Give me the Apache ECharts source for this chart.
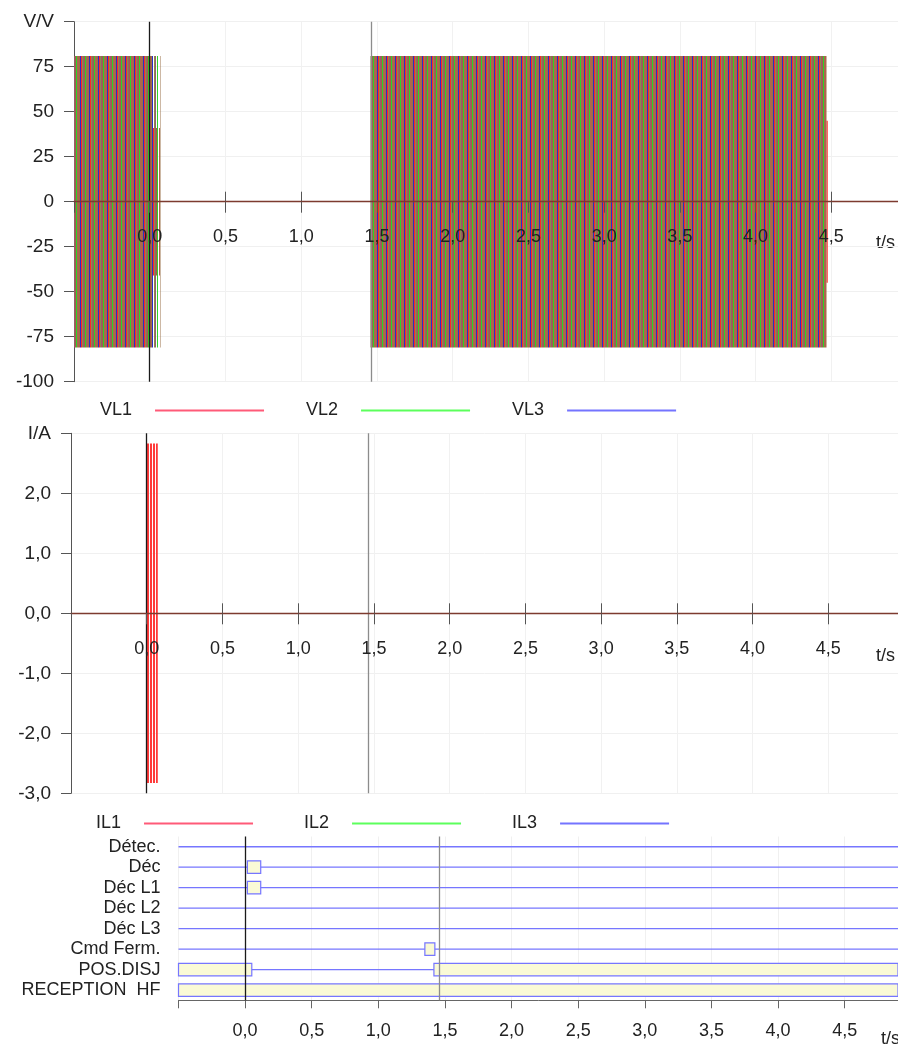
<!DOCTYPE html>
<html><head><meta charset="utf-8">
<script src="https://cdn.jsdelivr.net/npm/echarts@6/dist/echarts.min.js"></script>
<style>html,body{margin:0;padding:0;background:#fff}#c{width:898px;height:1045px}</style>
</head><body><div id="c"></div>
<script>
// ---------------- data ----------------
const voltageTicks = [-100, -75, -50, -25, 0, 25, 50, 75, 100];
const currentTicks = [-3, -2, -1, 0, 1, 2, 3];
const timeTickStep = 0.5;
// oscillation envelopes of the 50 Hz signals: [tStart (s), tEnd (s), peak]
const VL1 = [[-0.5, 0.012, 81], [0.012, 0.078, 41], [1.457, 4.468, 81], [4.468, 4.476, 45]];
const VL2 = [[-0.5, 0.071, 81], [1.457, 4.468, 81]];
const VL3 = [[-0.5, 0.052, 81], [1.457, 4.468, 81]];
const IL1 = [[0.0, 0.073, 2.83]];
const IL2 = [];
const IL3 = [];
const cursorTimes = [0, 1.46];
const digitalLabels = ['Détec.', 'Déc', 'Déc L1', 'Déc L2', 'Déc L3', 'Cmd Ferm.', 'POS.DISJ', 'RECEPTION  HF'];
// active intervals: [rowIndex, tStart, tEnd]
const digitalActive = [[1, 0.017, 0.117], [2, 0.017, 0.117], [5, 1.349, 1.424],
                       [6, -0.5, 0.05], [6, 1.417, 4.9], [7, -0.5, 4.9]];

// ---------------- styling helpers ----------------
const FONT = '"Liberation Sans", Arial, sans-serif';
const TXT = '#222';
const AX = '#555';
const ZERO = '#7d3b2f';
const COL = { VL1: '#ff5a78', VL2: '#5cff5c', VL3: '#7474ff', IL1: '#ff5a78', IL2: '#5cff5c', IL3: '#7474ff' };

function makePattern(cols) {
  const c = document.createElement('canvas');
  c.width = cols.length; c.height = 2;
  const g = c.getContext('2d');
  cols.forEach((col, i) => { if (col) { g.fillStyle = col; g.fillRect(i, 0, 1, 2); } });
  return { image: c, repeat: 'repeat' };
}
const PAT = {
  VL1: makePattern(['#ff2626', null, null, '#a65a48', null, null, '#b0644c', null, null]),
  VL2: makePattern([null, '#8f8a4a', null, null, '#2ad42a', null, null, '#9a7048', null]),
  VL3: makePattern([null, null, '#94606a', null, null, '#a8684e', null, null, '#2c2cc8']),
  IL1: makePattern(['#ff3a3a', '#ff3a3a', null])
};
const SOLID = { VL1: '#ff2b2b', VL2: '#2bdc2b', VL3: '#3030cc', IL1: '#ff3a3a', IL2: '#2bdc2b', IL3: '#3030cc' };

function clip(r, cs) {
  return echarts.graphic.clipRectByRect(r, { x: cs.x, y: cs.y, width: cs.width, height: cs.height });
}
function bandItem(name) {
  return function (params, api) {
    const a = api.value(2);
    const p0 = api.coord([api.value(0), a]);
    const p1 = api.coord([api.value(1), -a]);
    const w = p1[0] - p0[0];
    const r = clip({ x: p0[0], y: p0[1], width: Math.max(w, 1), height: p1[1] - p0[1] }, params.coordSys);
    if (!r) return null;
    return { type: 'rect', shape: r, style: { fill: w < 3 ? SOLID[name] : (PAT[name] || SOLID[name]) } };
  };
}
function rowLineItem(params, api) {
  const cs = params.coordSys;
  const y = api.coord([0, api.value(0)])[1];
  return { type: 'line', shape: { x1: cs.x, y1: y, x2: cs.x + cs.width, y2: y },
           style: { stroke: '#7676ff', lineWidth: 1.3 } };
}
function boxItem(params, api) {
  const y = api.coord([0, api.value(0)])[1];
  const x0 = api.coord([api.value(1), 0])[0];
  const x1 = api.coord([api.value(2), 0])[0];
  const h = 12.5;
  const r = clip({ x: x0, y: y - h / 2, width: x1 - x0, height: h }, params.coordSys);
  if (!r) return null;
  return { type: 'rect', shape: r, style: { fill: '#fafad6', stroke: '#7676ff', lineWidth: 1.2 } };
}
function cursorMarkLine() {
  return {
    silent: true, symbol: ['none', 'none'], label: { show: false }, animation: false,
    data: cursorTimes.map((t, i) => ({ xAxis: t, lineStyle: { color: i === 0 ? '#1a1a1a' : '#8c8c8c', width: 1.3, type: 'solid' } }))
  };
}
const tfmt = v => (v < -0.001 || v > 4.6) ? '' : v.toFixed(1).replace('.', ',');
const lbl = (extra) => Object.assign({ color: TXT, fontFamily: FONT, fontSize: 19 }, extra);

// x axes of the two analog charts sit on the zero line (middle of the grid)
function timeAxes(grid, min, max, labelMargin, halfHeight) {
  return [
    { gridIndex: grid, type: 'value', min: min, max: max, interval: timeTickStep, position: 'bottom',
      offset: -halfHeight, z: 10,
      axisLine: { show: true, onZero: false, lineStyle: { color: ZERO, width: 1.3 } },
      axisTick: { show: true, length: 11, lineStyle: { color: AX } },
      axisLabel: lbl({ margin: labelMargin, formatter: tfmt, fontSize: 18 }),
      splitLine: { show: false } },
    { gridIndex: grid, type: 'value', min: min, max: max, interval: timeTickStep, position: 'top',
      offset: -halfHeight,
      axisLine: { show: false, onZero: false },
      axisTick: { show: true, length: 10, lineStyle: { color: AX } },
      axisLabel: { show: false },
      splitLine: { show: true, lineStyle: { color: '#f1f1f1' } } }
  ];
}
function valueAxes(grid, min, max, step, fmt) {
  return [
    { gridIndex: grid, type: 'value', min: min, max: max, interval: step, position: 'left',
      axisLine: { show: true, onZero: false, lineStyle: { color: AX } },
      axisTick: { show: true, length: 10, lineStyle: { color: AX } },
      axisLabel: lbl({ margin: 20, formatter: fmt }),
      splitLine: { show: true, lineStyle: { color: '#f0f0f0' } } }
  ];
}

const vMin = voltageTicks[0], vMax = voltageTicks[voltageTicks.length - 1];
const iMin = currentTicks[0], iMax = currentTicks[currentTicks.length - 1];

const legendCommon = {
  orient: 'horizontal', align: 'right', icon: 'rect', itemWidth: 109, itemHeight: 2,
  textStyle: { color: TXT, fontFamily: FONT, fontSize: 18, padding: [0, 18, 0, 0] },
  selectedMode: false
};

function bandSeries(name, data, xi, yi, withCursor) {
  const s = {
    name: name, type: 'custom', xAxisIndex: xi, yAxisIndex: yi, data: data,
    encode: { x: [0, 1], y: 2 }, renderItem: bandItem(name),
    itemStyle: { color: COL[name] }, animation: false, silent: true
  };
  if (withCursor) s.markLine = cursorMarkLine();
  return s;
}

const option = {
  animation: false,
  backgroundColor: '#fff',
  grid: [
    { left: 74, top: 21.7, width: 824, height: 360, outerBoundsMode: 'none', containLabel: false },
    { left: 71, top: 433.3, width: 827, height: 360, outerBoundsMode: 'none', containLabel: false },
    { left: 178.5, top: 836.5, width: 719.5, height: 163.8, outerBoundsMode: 'none', containLabel: false }
  ],
  xAxis: [
    ...timeAxes(0, -0.5, 4.94, 26, 180),
    ...timeAxes(1, -0.5, 4.96, 27, 180),
    { gridIndex: 2, type: 'value', min: -0.5, max: 4.9, interval: timeTickStep, position: 'bottom',
      axisLine: { show: true, onZero: false, lineStyle: { color: '#666' } },
      axisTick: { show: true, length: 8, lineStyle: { color: '#666' } },
      axisLabel: lbl({ margin: 22, formatter: tfmt, fontSize: 18 }),
      splitLine: { show: true, lineStyle: { color: '#f0f0f0' } } }
  ],
  yAxis: [
    ...valueAxes(0, vMin, vMax, 25, v => v === vMax ? 'V/V' : String(v)),
    ...valueAxes(1, iMin, iMax, 1, v => v === iMax ? 'I/A' : v.toFixed(1).replace('.', ',')),
    { gridIndex: 2, type: 'category', data: digitalLabels, inverse: true,
      axisLine: { show: false }, axisTick: { show: false },
      axisLabel: lbl({ margin: 18, fontSize: 18, interval: 0 }), splitLine: { show: false } }
  ],
  legend: [
    Object.assign({}, legendCommon, { left: 95, top: 396.5, itemGap: 42,
      data: ['VL1', 'VL2', 'VL3'].map(n => ({ name: n, itemStyle: { color: COL[n] } })) }),
    Object.assign({}, legendCommon, { left: 91, top: 809.5, itemGap: 51,
      data: ['IL1', 'IL2', 'IL3'].map(n => ({ name: n, itemStyle: { color: COL[n] } })) })
  ],
  graphic: [
    { type: 'text', left: 876, top: 234, style: { text: 't/s', fill: TXT, font: '18px ' + FONT } },
    { type: 'text', left: 876, top: 647, style: { text: 't/s', fill: TXT, font: '18px ' + FONT } },
    { type: 'text', left: 881, top: 1030, style: { text: 't/s', fill: TXT, font: '18px ' + FONT } }
  ],
  series: [
    bandSeries('VL1', VL1, 0, 0, true),
    bandSeries('VL2', VL2, 0, 0, false),
    bandSeries('VL3', VL3, 0, 0, false),
    bandSeries('IL1', IL1, 2, 1, true),
    bandSeries('IL2', IL2, 2, 1, false),
    bandSeries('IL3', IL3, 2, 1, false),
    { name: 'rows', type: 'custom', xAxisIndex: 4, yAxisIndex: 2, silent: true,
      data: digitalLabels.map((n, i) => [i]), encode: { y: 0 }, renderItem: rowLineItem },
    { name: 'active', type: 'custom', xAxisIndex: 4, yAxisIndex: 2, silent: true,
      data: digitalActive, encode: { y: 0, x: [1, 2] }, renderItem: boxItem,
      markLine: cursorMarkLine() }
  ]
};

const chart = echarts.init(document.getElementById('c'), null, { renderer: 'canvas' });
chart.setOption(option);
</script>
</body></html>
